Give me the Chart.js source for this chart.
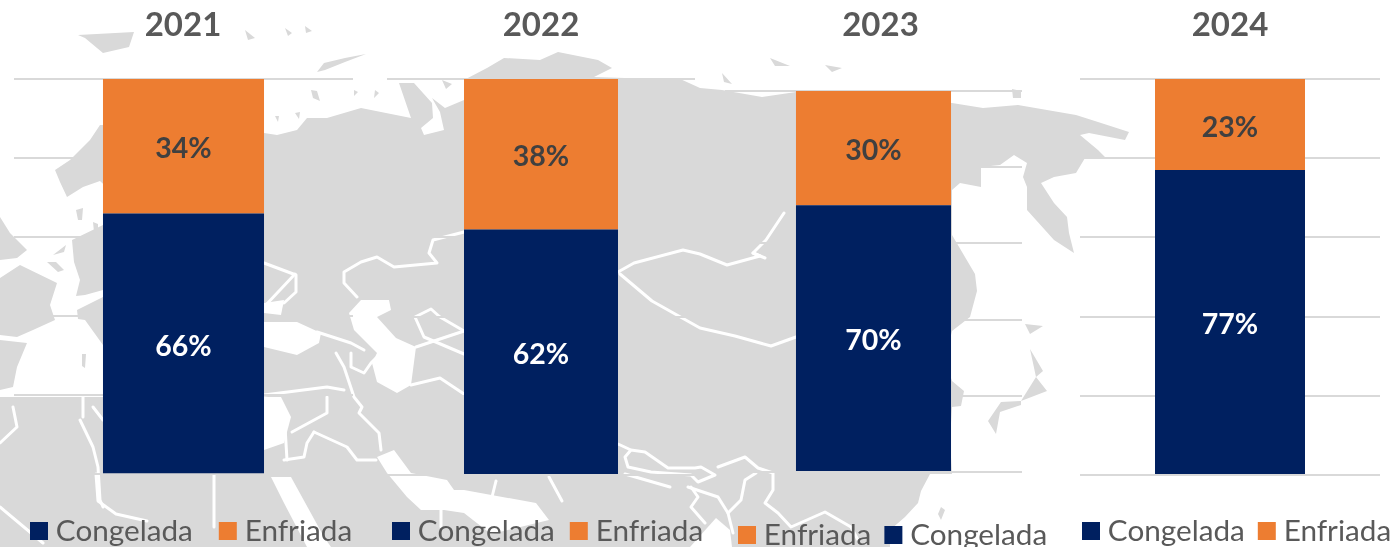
<!DOCTYPE html>
<html>
<head>
<meta charset="utf-8">
<script src="https://cdn.jsdelivr.net/npm/chart.js@4"></script>
<style>
html,body{margin:0;padding:0;background:#fff;width:1391px;height:547px;overflow:hidden}
#map,canvas{position:absolute;left:0;top:0}
#map{filter:blur(.5px)}
</style>
</head>
<body>
<svg id="map" width="1391" height="547" viewBox="0 0 1391 547" aria-hidden="true">
<g fill="#d9d9d9" stroke="none">
<path d="M103,120 L264,133 L277,135 L297,130 L307,118 L327,118 L361,108 L411,118 L399,83 L414,83 L432,103 L433,118 L421,128 L424,135 L444,130 L440,112 L432,98 L445,108 L464,100 L464,80 L487,68 L504,58 L540,60 L558,52 L598,60 L612,68 L594,77 L625,78 L678,78 L700,88 L722,90 L762,97 L796,92 L952,103 L983,108 L1018,105 L1076,115 L1098,122 L1129,132 L1125,140 L1089,133 L1080,135 L1098,150 L1105,157 L1085,158 L1076,173 L1054,177 L1041,183 L1054,203 L1067,217 L1069,233 L1074,253 L1054,240 L1027,210 L1027,187 L1023,177 L1027,163 L1014,155 L1000,165 L981,167 L981,187 L960,183 L952,190 L952,235 L975,274 L977,291 L970,317 L952,331 L945,360 L952,381 L964,391 L961,406 L952,407 L950,440 L952,474 L930,474 L921,491 L918,503 L905,517 L890,530 L890,547 L0,547 L0,397 L103,397 Z"/>
<path d="M55,170 L70,160 L90,140 L100,125 L120,125 L120,200 L100,181 L83,187 L67,197 L60,182 Z"/>
<path d="M78,35 L134,32 L129,47 L103,53 L85,38 Z"/>
<path d="M317,72 L324,63 L345,58 L366,54 L345,62 L325,70 Z"/>
<path d="M311,90 L317,91 L320,101 L313,98 Z M295,113 L300,112 L299,119 Z M275,116 L279,116 L278,122 Z M354,90 L358,92 L354,96 Z M375,90 L379,93 L374,98 Z M442,80 L452,84 L446,89 Z"/>
<path d="M245,30 L255,38 L248,40 Z M285,28 L292,33 L288,36 Z M305,26 L312,31 L306,33 Z"/>
<path d="M770,58 L780,62 L790,66 L775,66 Z M722,73 L732,84 L724,82 Z M825,65 L842,68 L832,72 Z"/>
<path d="M1012,89 L1021,91 L1021,98 L1013,98 Z"/>
<path d="M1025,324 L1043,326 L1030,334 Z"/>
<path d="M1030,349 L1043,371 L1036,377 L1047,391 L1021,401 L1036,377 Z"/>
<path d="M1021,401 L1001,402 L988,421 L996,434 L1000,412 L1021,405 Z"/>
<path d="M941,507 L945,510 L941,520 L938,514 Z"/>
<!-- western Europe -->
<path d="M0,217 L10,233 L27,250 L17,258 L0,260 Z"/>
<path d="M0,278 L20,265 L57,283 L50,305 L55,320 L33,330 L17,337 L0,335 Z"/>
<path d="M0,340 L27,343 L17,367 L13,387 L0,390 Z"/>
<path d="M72,240 L103,225 L103,290 L85,295 L76,296 L80,280 L74,262 Z"/>
<path d="M77,310 L103,297 L103,345 L85,320 L78,319 Z"/>
<path d="M47,262 L56,262 L64,270 L58,272 Z M53,255 L66,245 L64,252 Z"/>
<path d="M76,210 L83,208 L82,220 L78,220 Z M93,222 L98,224 L98,234 L94,232 Z M82,354 L86,354 L85,368 L82,366 Z"/>
</g>
<g fill="#fff" stroke="none">
<path d="M264,322 L297,322 L321,333 L319,343 L297,355 L264,347 Z"/>
<path d="M264,313 L281,315 L284,300 L264,303 Z"/>
<path d="M361,300 L389,300 L391,310 L377,317 L396,338 L416,347 L411,385 L397,393 L377,382 L372,363 L377,353 L354,330 L349,313 Z"/>
<path d="M271,477 L291,477 L324,537 L331,547 L307,547 L284,503 Z"/>
<path d="M264,397 L281,397 L291,417 L284,443 L264,450 Z"/>
<path d="M377,457 L394,450 L411,473 L447,480 L454,490 L464,490 L536,503 L549,520 L491,534 L464,513 L444,510 L421,510 L407,497 L387,473 Z"/>
<path d="M690,547 L716,518 L730,530 L732,547 Z"/>
</g>
<g fill="none" stroke="#fff" stroke-width="3" stroke-linejoin="round" stroke-linecap="round">
<path d="M620,274 L652,301 L700,328 L735,336 L771,346 L796,337"/>
<path d="M618,272 L634,263 L683,250 L700,254 L727,265 L760,256 L753,253"/>
<path d="M264,263 L296,275 L296,292 L284,303"/>
<path d="M357,297 L344,283 L344,272 L361,262 L377,257 L394,267 L437,263 L429,253 L433,240 L464,232"/>
<path d="M464,354 L424,337 L415,317 L431,309 L440,317 L464,331"/>
<path d="M416,347 L464,331"/>
<path d="M264,395 L327,387 L344,390"/>
<path d="M317,332 L351,343 L364,350"/>
<path d="M336,353 L344,367 L354,397 L362,407 L359,413 L379,433 L381,450"/>
<path d="M351,353 L351,367 L364,373 L371,363 L376,358"/>
<path d="M327,397 L327,413 L292,432"/>
<path d="M314,432 L307,443 L304,457 L284,460"/>
<path d="M314,432 L347,447 L357,460 L376,460"/>
<path d="M284,410 L287,460"/>
<path d="M441,510 L441,527"/>
<path d="M411,385 L440,378 L464,394"/>
<path d="M496,481 L491,501"/>
<path d="M549,477 L562,501"/>
<path d="M618,444 L631,450 L625,457 L628,467 L651,472 L691,475 L698,482 L715,475 L701,467 L695,468 L668,468 L645,452 L631,450"/>
<path d="M718,467 L745,457 L758,468 L773,473 L773,490 L765,503 L778,513 L791,527 L825,512 L851,527 L858,540"/>
<path d="M756,473 L745,480 L741,500 L728,513 L733,533"/>
<path d="M691,487 L698,497 L691,507 L705,523"/>
<path d="M688,487 L718,497 L728,513"/>
<path d="M625,474 L670,487"/>
<path d="M784,213 L766,240 L753,253 L765,258"/>
<!-- western lines -->
<path d="M13,407 L17,427 L0,443"/>
<path d="M80,420 L93,447 L98,467 L100,500 L103,507"/>
<path d="M83,393 L83,417"/>
<path d="M0,507 L43,543"/>
<path d="M96,474 L98,501 L116,514 L147,521"/>
<path d="M214,474 L214,527"/>
<path d="M264,307 L295,274"/>
<path d="M93,407 L103,420"/>
</g>
</svg>
<canvas id="c0" width="1391" height="547"></canvas>
<canvas id="c1" width="1391" height="547"></canvas>
<canvas id="c2" width="1391" height="547"></canvas>
<canvas id="c3" width="1391" height="547"></canvas>
<script>
// Data
const years = ['2021', '2022', '2023', '2024'];
const seriesNames = ['Congelada', 'Enfriada'];
const congelada = [66, 62, 70, 77];
const enfriada = [34, 38, 30, 23];
const legendOrders = [[0, 1], [0, 1], [1, 0], [0, 1]];
const yTicks = [0, 20, 40, 60, 80, 100];

// Colours
const BLUE = '#002060', ORANGE = '#ED7D31', GRID = '#d9d9d9', TITLE = '#595959', DARK = '#404040';
const FAMILY = 'Lato, Carlito, sans-serif';

// Layout of each panel (pixels on the page)
const panels = [
  {l:14,  r:353,  t:79, b:475, bar:.475, cx:183, lx:30,  ly:531, gap:33},
  {l:387, r:695,  t:79, b:475, bar:.50,  cx:541, lx:392, ly:531, gap:22},
  {l:725, r:1022, t:91, b:472, bar:.522, cx:880.5, lx:738, ly:535, gap:20},
  {l:1080,r:1380, t:79, b:475, bar:.50,  cx:1230, lx:1082, ly:531, gap:20}
];
const TITLE_SIZE = 33, LEG_SIZE = 29.7, LABEL_SIZE = 28.5;

const placePlugin = {
  id: 'place',
  afterLayout(chart) {
    const p = chart.options.plugins.place;
    const tb = chart.titleBlock;
    tb.left = p.cx - 150; tb.right = p.cx + 150;
    const lg = chart.legend;
    const pad = p.gap;
    lg.left = p.lx + 7 - pad;
    lg.right = 3000;
    lg.top = p.ly - LEG_SIZE / 2 - pad;
    lg.bottom = lg.top + LEG_SIZE + pad + 10;
  }
};

const labelPlugin = {
  id: 'barLabels',
  afterDatasetsDraw(chart) {
    const ctx = chart.ctx;
    ctx.save();
    ctx.font = 'bold ' + LABEL_SIZE + 'px ' + FAMILY;
    ctx.textAlign = 'center';
    ctx.textBaseline = 'middle';
    chart.data.datasets.forEach((ds, i) => {
      chart.getDatasetMeta(i).data.forEach((el, j) => {
        ctx.fillStyle = i === 0 ? '#ffffff' : DARK;
        ctx.fillText(ds.data[j] + '%', el.x, (el.y + el.base) / 2 + 3);
      });
    });
    ctx.restore();
  }
};

years.forEach((year, i) => {
  const p = panels[i];
  const colors = [BLUE, ORANGE];
  new Chart(document.getElementById('c' + i), {
    type: 'bar',
    data: {
      labels: [year],
      datasets: [
        {label: seriesNames[0], data: [congelada[i]], backgroundColor: BLUE, categoryPercentage: 1, barPercentage: p.bar},
        {label: seriesNames[1], data: [enfriada[i]], backgroundColor: ORANGE, categoryPercentage: 1, barPercentage: p.bar}
      ]
    },
    options: {
      responsive: false,
      animation: false,
      devicePixelRatio: 1,
      layout: {padding: 0},
      scales: {
        x: {
          stacked: true,
          grid: {display: false},
          border: {display: false},
          ticks: {display: false},
          afterFit(s) { s.height = 547 - p.b - (s.chart.legend ? s.chart.legend.height : 0); }
        },
        y: {
          stacked: true, min: 0, max: 100,
          afterBuildTicks(s) { s.ticks = yTicks.map(v => ({value: v})); },
          grid: {color: GRID, lineWidth: 2, drawTicks: false},
          border: {display: false},
          ticks: {display: false},
          afterFit(s) { s.width = p.l; }
        },
        yr: {
          position: 'right', display: true, min: 0, max: 100,
          grid: {display: false},
          border: {display: false},
          ticks: {display: false},
          afterFit(s) { s.width = 1391 - p.r; }
        }
      },
      plugins: {
        tooltip: {enabled: false},
        place: p,
        title: {
          display: true,
          text: year,
          color: TITLE,
          font: {family: FAMILY, size: TITLE_SIZE, weight: 'bold', lineHeight: 1.2},
          padding: {top: 6, bottom: p.t - 6 - TITLE_SIZE * 1.2}
        },
        legend: {
          display: true,
          position: 'bottom',
          align: 'start',
          labels: {
            boxWidth: 4,
            boxHeight: 4,
            padding: p.gap,
            color: TITLE,
            font: {family: FAMILY, size: LEG_SIZE},
            generateLabels() {
              return legendOrders[i].map(k => ({
                text: seriesNames[k],
                fillStyle: colors[k],
                strokeStyle: colors[k],
                lineWidth: 14,
                fontColor: TITLE,
                hidden: false,
                datasetIndex: k
              }));
            }
          }
        }
      }
    },
    plugins: [placePlugin, labelPlugin]
  });
});
</script>
</body>
</html>
